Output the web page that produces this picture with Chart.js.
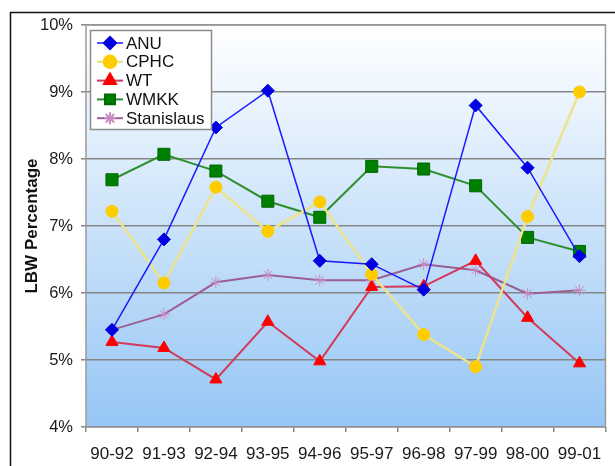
<!DOCTYPE html>
<html>
<head>
<meta charset="utf-8">
<script src="https://cdn.jsdelivr.net/npm/chart.js@4/dist/chart.umd.min.js"></script>
<style>
  body { margin: 0; background: #fff; }
  canvas { display: block; }
</style>
</head>
<body>
<canvas id="myChart" width="615" height="466"></canvas>
<script>
// periodos (etiquetas del eje x)
const periods = ['90-92', '91-93', '92-94', '93-95', '94-96', '95-97', '96-98', '97-99', '98-00', '99-01'];

// porcentaje LBW por centro
const anu = [5.45, 6.8, 8.47, 9.02, 6.48, 6.43, 6.05, 8.8, 7.87, 6.55];
const cphc = [7.22, 6.15, 7.58, 6.92, 7.36, 6.28, 5.38, 4.9, 7.14, 9.0];
const wt = [5.27, 5.18, 4.71, 5.57, 4.98, 6.09, 6.1, 6.48, 5.63, 4.95];
const wmkk = [7.69, 8.07, 7.82, 7.37, 7.13, 7.89, 7.85, 7.6, 6.83, 6.62];
const stanislaus = [5.45, 5.68, 6.16, 6.27, 6.19, 6.19, 6.43, 6.34, 5.99, 6.04];

const yTicks = [4, 5, 6, 7, 8, 9, 10];

const FONT = 'Arial, "Liberation Sans", sans-serif';

// fondo degradado + marco
const backgroundPlugin = {
    id: 'bgPlugin',
    beforeDraw: (chart) => {
        const ctx = chart.ctx;
        const a = chart.chartArea;
        ctx.save();
        // marco negro exterior (recortado)
        ctx.strokeStyle = '#111';
        ctx.lineWidth = 1.5;
        ctx.strokeRect(10.5, 12.5, 640, 500);
        const g = ctx.createLinearGradient(0, a.top, 0, a.bottom);
        g.addColorStop(0, '#ffffff');
        g.addColorStop(1, '#96c6f5');
        ctx.fillStyle = g;
        ctx.fillRect(a.left, a.top, a.right - a.left, a.bottom - a.top);
        ctx.restore();
    },
    beforeDatasetsDraw: (chart) => {
        const ctx = chart.ctx;
        const a = chart.chartArea;
        ctx.save();
        ctx.strokeStyle = '#9a9a9a';
        ctx.lineWidth = 1.5;
        ctx.strokeRect(a.left, a.top, a.right - a.left, a.bottom - a.top);
        ctx.restore();
    }
};

// leyenda dentro del area del grafico
const legendBox = {
    id: 'legendBox',
    afterDatasetsDraw: (chart) => {
        const ctx = chart.ctx;
        const x = 90, y = 30, w = 121, h = 99;
        ctx.save();
        ctx.fillStyle = '#ffffff';
        ctx.fillRect(x, y, w, h);
        ctx.strokeStyle = '#8c8c8c';
        ctx.lineWidth = 1.5;
        ctx.strokeRect(x + 0.5, y + 0.5, w, h);
        ctx.font = '17px ' + FONT;
        ctx.textBaseline = 'middle';
        chart.data.datasets.forEach((ds, i) => {
            const cy = y + 13 + i * 18.8;
            ctx.strokeStyle = ds.borderColor;
            ctx.lineWidth = ds.borderWidth;
            ctx.beginPath();
            ctx.moveTo(x + 7, cy);
            ctx.lineTo(x + 33, cy);
            ctx.stroke();
            ctx.fillStyle = ds.pointBackgroundColor;
            ctx.strokeStyle = ds.pointBorderColor;
            Chart.helpers.drawPoint(ctx, {
                pointStyle: ds.pointStyle,
                radius: Math.min(ds.pointRadius, 7),
                rotation: 0,
                borderWidth: ds.pointBorderWidth
            }, x + 20, cy);
            ctx.fillStyle = '#111';
            ctx.fillText(ds.label, x + 36, cy + 1);
        });
        ctx.restore();
    }
};

const dataset = {
    labels: periods,
    datasets: [
        {
            label: 'ANU', data: anu,
            borderColor: '#1a1aff', borderWidth: 1.5,
            pointStyle: 'rectRot', pointRadius: 6.5,
            pointBackgroundColor: '#0000e0', pointBorderColor: '#0000e0', pointBorderWidth: 1
        },
        {
            label: 'CPHC', data: cphc,
            borderColor: '#ece38a', borderWidth: 2.5,
            pointStyle: 'circle', pointRadius: 6,
            pointBackgroundColor: '#ffcc00', pointBorderColor: '#ffcc00', pointBorderWidth: 1
        },
        {
            label: 'WT', data: wt,
            borderColor: '#d23a5a', borderWidth: 2,
            pointStyle: 'triangle', pointRadius: 7,
            pointBackgroundColor: '#ff0000', pointBorderColor: '#ff0000', pointBorderWidth: 1
        },
        {
            label: 'WMKK', data: wmkk,
            borderColor: '#2f8f2f', borderWidth: 2,
            pointStyle: 'rect', pointRadius: 8.5,
            pointBackgroundColor: '#008000', pointBorderColor: '#006600', pointBorderWidth: 1
        },
        {
            label: 'Stanislaus', data: stanislaus,
            borderColor: '#9c5f94', borderWidth: 2,
            pointStyle: 'star', pointRadius: 6,
            pointBackgroundColor: '#c98ac4', pointBorderColor: '#c98ac4', pointBorderWidth: 1
        }
    ]
};

const config = {
    type: 'line',
    data: dataset,
    plugins: [backgroundPlugin, legendBox],
    options: {
        responsive: false,
        animation: false,
        layout: { padding: { top: 25, right: 3, left: 0, bottom: 0 } },
        elements: { line: { tension: 0 } },
        plugins: {
            legend: { display: false },
            tooltip: { enabled: false }
        },
        scales: {
            x: {
                offset: true,
                grid: { drawOnChartArea: false, drawTicks: true, tickLength: 5, color: '#888', offset: true, lineWidth: 1.5 },
                border: { display: false },
                ticks: { color: '#1a1a1a', font: { size: 17, family: FONT }, padding: 12, maxRotation: 0, autoSkip: false },
                afterFit: (scale) => { scale.height = 39; }
            },
            y: {
                min: 4, max: 10,
                afterBuildTicks: (scale) => { scale.ticks = yTicks.map(v => ({ value: v })); },
                grid: { color: '#858585', lineWidth: 1.5, tickLength: 5 },
                border: { display: false },
                ticks: {
                    color: '#1a1a1a', font: { size: 16.5, family: FONT }, padding: 8,
                    callback: (v) => v + '%'
                },
                title: {
                    display: true, text: 'LBW Percentage', color: '#111',
                    font: { size: 17, weight: 'bold', family: FONT }, padding: { top: 22, bottom: 0 }
                },
                afterFit: (scale) => { scale.width = 86; }
            }
        }
    }
};

const chart = new Chart(document.getElementById('myChart'), config);
</script>
</body>
</html>
